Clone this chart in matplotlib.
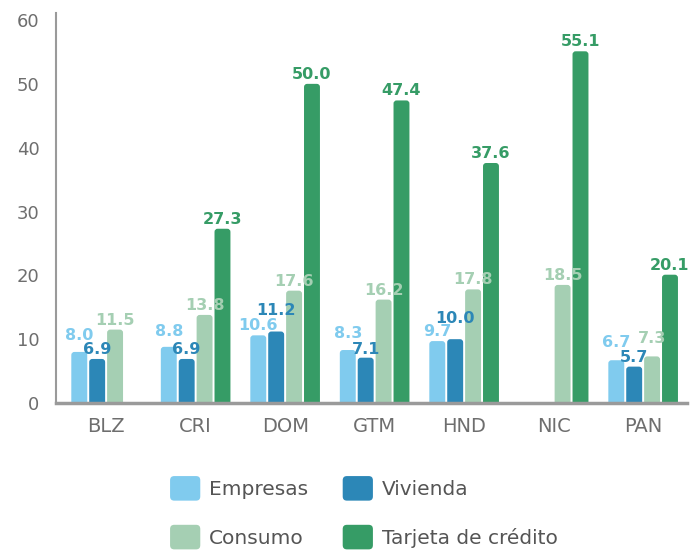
import numpy as np
import matplotlib
matplotlib.use("Agg")
import matplotlib.pyplot as plt
from matplotlib.patches import FancyBboxPatch, Patch
from matplotlib.legend_handler import HandlerPatch

countries = ["BLZ", "CRI", "DOM", "GTM", "HND", "NIC", "PAN"]
series = ["Empresas", "Vivienda", "Consumo", "Tarjeta de crédito"]

empresas = [8.0, 8.8, 10.6, 8.3, 9.7, None, 6.7]
vivienda = [6.9, 6.9, 11.2, 7.1, 10.0, None, 5.7]
consumo = [11.5, 13.8, 17.6, 16.2, 17.8, 18.5, 7.3]
tarjeta = [None, 27.3, 50.0, 47.4, 37.6, 55.1, 20.1]

colors = ["#80cbee", "#2c87b7", "#a5cfb3", "#369c66"]

# extra lift (points) for labels that would collide in the original
nudge = {(0, 0): 5, (1, 0): 4, (2, 1): 8, (3, 0): 5, (3, 1): -1,
         (4, 1): 8, (6, 0): 6, (6, 2): 6}

fig = plt.figure(figsize=(6.97, 5.52), dpi=100)
ax = fig.add_axes([56 / 697, 149 / 552, 631 / 697, 390 / 552])

x = np.arange(len(countries))
width = 0.178
step = 0.2
ymax = 61.1
# aspect of data units per pixel (y over x) so the corners stay round
aspect = (ymax / 390) / (7.05 / 631)

for k, (vals, col) in enumerate(zip([empresas, vivienda, consumo, tarjeta], colors)):
    for i, v in enumerate(vals):
        if v is None:
            continue
        xc = x[i] + (k - 1.5) * step
        bar = FancyBboxPatch((xc - width / 2, -1), width, v + 1,
                             boxstyle="round,pad=0,rounding_size=0.035",
                             mutation_aspect=aspect, facecolor=col,
                             edgecolor="none", zorder=2)
        ax.add_patch(bar)
        ax.annotate(f"{v:.1f}", (xc, v), xytext=(0, 1.5 + nudge.get((i, k), 0)),
                    textcoords="offset points", ha="center", va="bottom",
                    fontsize=11.5, fontweight="bold", color=col, zorder=3)

ax.set_xlim(-0.56, 6.49)
ax.set_ylim(0, ymax)
ax.set_xticks(x)
ax.set_xticklabels(countries, fontsize=14, color="#6e6e6e")
ax.set_yticks(range(0, 61, 10))
ax.tick_params(axis="y", length=0, pad=12, labelsize=13, labelcolor="#6e6e6e")
ax.tick_params(axis="x", length=0, pad=10)
for s in ["top", "right"]:
    ax.spines[s].set_visible(False)
ax.spines["left"].set_color("#9a9a9a")
ax.spines["left"].set_linewidth(1.5)
ax.spines["bottom"].set_color("#9a9a9a")
ax.spines["bottom"].set_linewidth(2.5)
ax.spines["bottom"].set_zorder(4)


class RoundHandler(HandlerPatch):
    def create_artists(self, legend, orig_handle, xdescent, ydescent,
                       width, height, fontsize, trans):
        p = FancyBboxPatch((-xdescent, -ydescent), width, height,
                           boxstyle="round,pad=0,rounding_size=3",
                           facecolor=orig_handle.get_facecolor(),
                           edgecolor="none", transform=trans)
        return [p]


# column-wise fill -> rows: Empresas/Vivienda, Consumo/Tarjeta
order = [0, 2, 1, 3]
handles = [Patch(facecolor=colors[j]) for j in order]
labels = [series[j] for j in order]
fig.legend(handles, labels, ncol=2, loc="upper left",
           bbox_to_anchor=(160 / 697, 1 - 466 / 552), frameon=False,
           borderpad=0, fontsize=14.5, labelcolor="#555555",
           handlelength=1.5, handleheight=1.5, handletextpad=0.45,
           labelspacing=1.2, columnspacing=1.7,
           handler_map={Patch: RoundHandler()})

fig.savefig("out.png", dpi=100)
